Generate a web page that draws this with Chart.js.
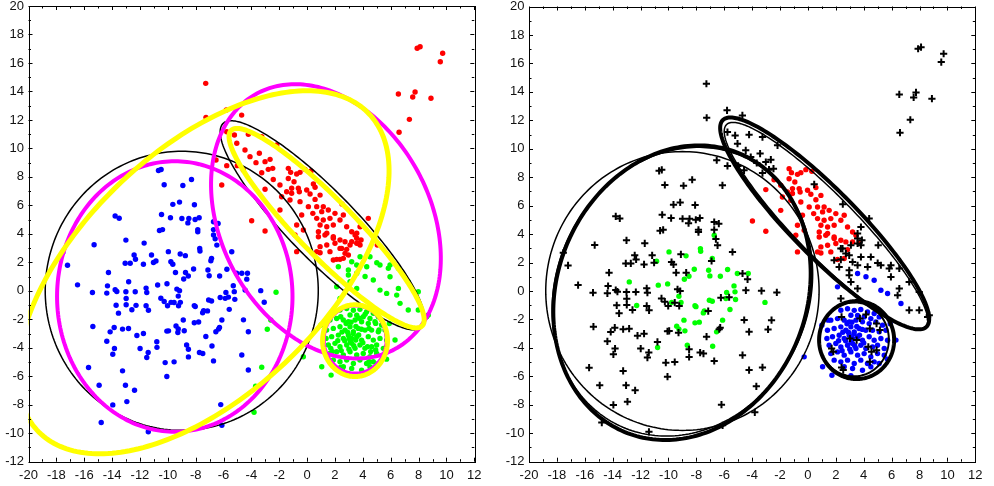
<!DOCTYPE html>
<html>
<head>
<meta charset="utf-8">
<script src="https://cdn.jsdelivr.net/npm/chart.js@4.4.0/dist/chart.umd.min.js"></script>
<style>
  body { margin: 0; background: #fff; }
  .panel { position: absolute; top: 0; }
</style>
</head>
<body>
<div class="panel" style="left:0px"><canvas id="leftChart" width="497" height="486"></canvas></div>
<div class="panel" style="left:497px"><canvas id="rightChart" width="497" height="486"></canvas></div>
<script>
// Axis ranges and tick step (same for both panels)
const xRange = [-20, 12];
const yRange = [-12, 20];
const tickStep = 2;

// Wide cluster: blue on the left, black crosses on the right
const broadBlackPts = [
  [-15.29,3.23],[-13.01,3.56],[-11.7,3.35],[-5.41,2.74],[-17.54,2.69],[-17.2,1.8],[-16.48,0.42],[-15.41,-0.12],
  [-15.38,-2.51],[-14.26,1.29],[-14.33,0.35],[-14.38,-0.16],[-13.78,0.07],[-13.66,-0.05],[-13.71,-1.01],[-13.54,-1.57],
  [-13.01,-0.07],[-12.99,-0.54],[-12.99,-0.98],[-12.58,-1.33],[-12.34,-0.07],[-13.06,1.94],[-12.7,1.94],[-12.42,2.51],
  [-12.32,2.22],[-11.75,1.87],[-11.56,-1.05],[-11.51,-0.12],[-11.56,0.19],[-11.39,-1.36],[-11.17,2.51],[-11.03,1.99],
  [-10.5,-0.52],[-10.26,-0.75],[-10.02,-1.05],[-9.78,2.04],[-9.64,1.87],[-9.45,1.29],[-9.55,-0.82],[-9.35,0.12],
  [-9.16,0.0],[-9.11,2.58],[-8.73,1.29],[-9.23,-1.05],[-7.15,-1.41],[-6.91,2.11],[-6.48,3.21],[-6.24,-0.47],
  [-5.65,-0.44],[-6.29,-2.58],[-6.36,-2.69],[-4.57,-2.04],[-4.33,0.82],[-4.45,0.05],[-7.27,-3.21],[-6.72,-4.92],
  [-7.73,-4.33],[-7.49,-4.4],[-8.52,-4.1],[-8.52,-4.64],[-9.28,-2.93],[-10.07,-2.83],[-9.95,-2.81],[-10.19,-5.04],
  [-9.55,-4.99],[-10.07,-6.02],[-10.79,-3.58],[-11.99,-4.05],[-11.75,-3.0],[-11.41,-4.33],[-11.51,-4.68],[-12.22,-3.14],
  [-12.82,-2.65],[-13.25,-2.69],[-13.85,-2.58],[-14.14,-2.88],[-14.38,-3.54],[-13.83,-4.05],[-13.95,-4.45],[-13.25,-5.62],
  [-13.04,-6.63],[-12.94,-7.78],[-12.39,-6.98],[-13.95,-8.01],[-15.69,-5.39],[-14.93,-6.63],[-14.78,-9.25],[-11.4,-9.9],
  [-6.2,-7.99],[-6.12,-9.44],[-10.67,8.45],[-10.48,8.52],[-10.26,7.45],[-8.92,7.4],[-8.3,7.82],[-9.64,6.07],
  [-9.16,6.23],[-8.09,6.04],[-13.78,5.25],[-13.49,5.1],[-10.45,5.36],[-9.81,5.13],[-8.99,5.08],[-8.49,5.08],
  [-8.56,4.77],[-8.04,5.01],[-7.75,5.13],[-6.72,4.85],[-6.39,4.73],[-7.85,4.3],[-7.85,4.14],[-10.6,4.24],
  [-10.38,4.3],[-6.72,4.3],[-6.6,3.65],[-4.69,1.23],[-3.33,0.01],[-4.22,-2.87],[-4.69,-4.51],[-4.22,-5.56]
];

// Wide cluster: blue on the left, green on the right
const broadGreenPts = [
  [-9.96,2.75],[-7.69,2.79],[-8.74,2.47],[-10.85,2.09],[-6.86,2.28],[-12.81,0.64],[-10.73,0.41],[-10.06,0.5],
  [-8.15,1.53],[-8.53,1.04],[-8.86,0.83],[-7.12,1.46],[-7.03,1.06],[-6.28,1.04],[-5.76,1.51],[-5.06,1.23],
  [-5.3,0.36],[-5.23,-0.06],[-5.83,-0.11],[-9.25,-0.37],[-9.77,-0.81],[-9.1,-0.81],[-5.88,-0.53],[-5.19,-0.6],
  [-7.07,-0.65],[-6.86,-0.72],[-12.28,-1.02],[-8.1,-1.04],[-8.03,-1.1],[-7.43,-1.4],[-7.5,-1.54],[-5.59,-1.3],
  [-6.12,-2.05],[-8.1,-2.24],[-7.79,-2.19],[-8.89,-2.05],[-9.41,-2.47],[-9.25,-2.68],[-8.82,-2.8],[-6.55,-2.87],
  [-10.78,-3.97],[-8.65,-3.81],[-6.83,-3.88],[-4.28,1.23],[-3.08,-0.8],[-6.72,3.92],[-7.71,2.98]
];

// Elongated cluster: red on both panels
const redCorePts = [
  [-1.35,8.6],[-1.18,8.32],[-0.51,8.32],[-0.15,8.53],[-0.75,8.2],[0.28,8.41],[-2.43,7.82],[-1.95,7.43],
  [-1.35,7.89],[-0.94,7.66],[-0.63,7.2],[-1.11,7.2],[-1.47,6.96],[-1.11,6.85],[-0.56,6.96],[-3.02,7.13],
  [-1.83,6.61],[-1.23,6.38],[-0.51,6.26],[-0.03,7.08],[0.57,7.27],[0.21,6.8],[0.57,6.42],[0.93,6.72],
  [0.09,5.91],[0.69,5.91],[1.16,5.91],[0.41,5.44],[1.05,5.56],[1.52,5.67],[0.69,5.09],[1.16,4.97],
  [1.64,5.09],[0.93,4.62],[1.41,4.5],[1.88,4.62],[2.36,4.97],[2.6,5.32],[2.0,5.44],[2.84,4.5],
  [3.2,4.15],[1.41,4.04],[1.88,3.8],[2.36,3.57],[2.72,3.45],[0.81,4.15],[0.93,3.1],[1.41,3.22],
  [0.69,2.75],[-0.75,2.75],[-3.98,4.92],[-3.02,4.2],[-0.75,4.62],[-1.95,5.67],[-0.39,5.32],[-0.87,3.92],
  [-0.27,4.27],[2.0,3.34],[1.64,2.75],[0.93,2.67],[0.81,3.8],[1.28,3.92],[1.88,3.69],[3.44,3.92],
  [3.2,3.45],[3.67,3.34],[2.84,2.91],[2.12,2.21],[2.6,2.28]
];

// Elongated cluster: red on the left, black crosses on the right
const redEdgePts = [
  [7.9,17.03],[8.11,17.14],[9.73,16.68],[9.56,16.09],[6.55,13.82],[7.75,13.96],[7.58,13.61],[8.89,13.52],
  [7.34,12.04],[6.6,11.13],[-7.28,14.57],[-7.26,12.18],[-4.7,12.34],[-5.8,12.7],[-5.77,11.17],[-5.22,10.94],
  [-5.05,10.36],[-4.22,10.99],[-4.46,9.89],[-6.54,9.19],[-5.77,8.79],[-5.01,8.79],[-6.13,7.43],[-3.26,10.82],
  [-2.18,10.24],[-4.1,9.42],[-3.43,9.66],[-2.66,9.23],[-3.02,9.07],[-3.67,9.0],[-4.58,8.48],[-3.26,8.29],
  [-2.79,8.53],[-2.47,8.6],[3.87,3.57],[3.56,3.69],[4.39,5.09],[3.8,4.5],[2.48,2.98],[1.88,2.16],
  [2.36,2.21],[3.56,4.04],[3.08,3.22],[3.56,3.34],[3.8,3.22],[2.36,2.98],[2.72,2.63],[2.96,2.51],
  [5.04,3.22],[0.45,7.5],[2.5,6.1]
];

// Compact cluster: green on the left, blue on the right
const compactBluePts = [
  [2.36,-1.35],[2.84,-1.25],[3.32,-1.36],[3.79,-1.3],[4.27,-1.47],[4.75,-1.58],[5.11,-1.82],[3.08,-1.7],
  [3.56,-1.72],[4.03,-1.82],[4.51,-1.94],[1.64,-2.05],[2.12,-1.94],[2.6,-2.05],[2.96,-2.17],[3.44,-2.05],
  [3.91,-2.17],[4.39,-2.29],[4.87,-2.17],[5.35,-2.4],[1.4,-2.76],[1.88,-2.64],[2.36,-2.52],[2.72,-2.76],
  [3.08,-2.52],[3.32,-2.87],[3.67,-2.64],[4.15,-2.76],[4.63,-2.76],[5.11,-2.87],[5.59,-2.76],[1.76,-3.22],
  [2.24,-3.11],[2.6,-3.34],[2.96,-3.11],[3.2,-3.34],[3.56,-3.22],[3.91,-3.46],[4.39,-3.22],[4.75,-3.46],
  [5.23,-3.34],[5.71,-3.46],[1.52,-3.81],[2.0,-3.69],[2.36,-3.93],[2.84,-3.81],[3.2,-3.69],[3.44,-4.04],
  [3.79,-3.81],[4.15,-4.04],[4.63,-3.93],[4.99,-3.81],[5.47,-4.04],[1.64,-4.4],[2.12,-4.28],[2.6,-4.51],
  [3.08,-4.28],[3.56,-4.51],[4.03,-4.4],[4.51,-4.63],[4.99,-4.4],[5.47,-4.51],[1.88,-4.86],[2.36,-4.98],
  [2.84,-4.86],[3.32,-5.1],[3.79,-4.86],[4.27,-5.1],[4.75,-4.98],[2.6,-5.33],[3.2,-5.45],[3.91,-5.57],
  [4.51,-5.33],[5.11,-5.1],[2.9,-2.9],[3.1,-3.6],[3.3,-3.0],[2.7,-3.5],[3.0,-4.1],[3.5,-2.5],
  [2.5,-2.9],[3.35,-3.85],[2.8,-2.3],[3.7,-3.1],[2.45,-4.2],[3.9,-2.7],[2.2,-3.5],[4.0,-3.65],
  [3.15,-2.2],[1.72,-5.92],[3.08,-5.95],[1.36,-3.34],[1.45,-2.05],[5.9,-2.3],[1.0,-2.4],[5.7,-4.8],
  [3.56,1.23],[4.16,1.0],[4.75,0.76],[2.12,0.29],[5.23,0.05],[5.71,-0.18],[6.67,-0.88],[6.31,-3.45],
  [-0.27,-4.63],[1.05,-5.33]
];

// Compact cluster: green on the left, black crosses on the right
const compactBlackPts = [
  [2.24,1.69],[3.2,2.04],[3.8,2.39],[4.51,2.39],[2.96,1.46],[4.28,1.69],[5.0,1.97],[5.23,1.81],
  [5.95,1.81],[5.83,1.58],[6.55,1.58],[3.56,0.17],[6.55,0.17],[2.36,-0.53],[7.26,-1.35],[7.98,-1.35],
  [7.98,-0.07],[7.26,0.64],[3.08,0.64],[8.7,-1.7],[5.95,0.99],[3.56,1.81],[2.96,1.11],[6.43,-0.3],
  [8.58,-1.82],[2.41,-1.82],[3.73,-1.93],[4.16,-1.65],[4.92,-2.29],[4.44,-2.64],[5.16,-2.75],[3.49,-3.45],
  [3.01,-3.34],[4.33,-3.92],[4.56,-4.27],[4.92,-4.16],[1.7,-4.04],[1.82,-4.27],[4.44,-4.98],[2.41,-5.37],
  [2.53,-5.56],[-2.23,-0.1],[-2.61,-2.05],[-2.86,-2.7],[-3.81,-8.53],[-3.26,-5.37],[-3.7,-6.7]
];

// Ellipses: [centre x, centre y, semi-axis a, semi-axis b, rotation in degrees]
const leftEllipses = [
  [-9.0, 0.0, 9.8, 9.8, 0],        // wide cluster, thin black
  [1.1, 4.6, 10.1, 2.4, -45],      // elongated cluster, thin black
  [3.35, -3.5, 2.3, 2.45, 0],      // compact cluster, thin black
  [-9.5, -0.4, 8.45, 9.5, 0],      // wide cluster, magenta
  [1.35, 4.88, 10.25, 7.46, -60],  // elongated cluster, magenta
  [3.45, -3.42, 2.22, 2.36, 0],    // compact cluster, magenta
  [-7.45, 1.3, 16.29, 8.65, 42.7], // wide cluster, yellow
  [1.4, 4.4, 9.7, 2.0, -45],       // elongated cluster, yellow
  [3.44, -3.5, 2.33, 2.52, 0]      // compact cluster, yellow
];
const rightEllipses = [
  [-9.0, 0.0, 9.8, 9.8, 0],
  [-9.0, -0.05, 10.45, 9.0, 62],
  [-9.03, -0.12, 10.62, 8.92, 65.8],
  [1.3, 4.55, 10.1, 2.15, -45],
  [1.2, 4.75, 10.3, 2.35, -44.8],
  [3.3, -3.4, 2.5, 2.6, 0],
  [3.49, -3.45, 2.69, 2.74, 0]
];

// Styles for the ellipses, in the same order as above
const leftEllipseStyles = [
  { color: '#000000', width: 1.5 }, { color: '#000000', width: 1.5 }, { color: '#000000', width: 1.5 },
  { color: '#ff00ff', width: 4 }, { color: '#ff00ff', width: 4 }, { color: '#ff00ff', width: 3 },
  { color: '#ffff00', width: 5 }, { color: '#ffff00', width: 5 }, { color: '#ffff00', width: 5 }
];
const rightEllipseStyles = [
  { color: '#000000', width: 1.5 }, { color: '#000000', width: 1.5 }, { color: '#000000', width: 4 },
  { color: '#000000', width: 1.5 }, { color: '#000000', width: 4 },
  { color: '#000000', width: 2 }, { color: '#000000', width: 4 }
];

// Turn [x, y] pairs into Chart.js points
function toPoints(list) {
  return list.map(p => ({ x: p[0], y: p[1] }));
}

// Filled dot dataset
function dots(points, color, order) {
  return {
    data: toPoints(points),
    pointStyle: 'circle',
    pointRadius: 2.7,
    pointHoverRadius: 2.7,
    backgroundColor: color,
    borderWidth: 0,
    order: order
  };
}

// Black "+" dataset
function crosses(points, order) {
  return {
    data: toPoints(points),
    pointStyle: 'cross',
    pointRadius: 3.6,
    pointHoverRadius: 3.6,
    borderColor: '#000000',
    borderWidth: 2,
    order: order
  };
}

// Plugin: ellipses through the scales, then the frame with inward ticks
const framePlugin = {
  id: 'frame',
  afterDatasetsDraw(chart, args, opts) {
    const ctx = chart.ctx;
    const area = chart.chartArea;
    const xs = chart.scales.x;
    const ys = chart.scales.y;

    ctx.save();
    ctx.beginPath();
    ctx.rect(area.left, area.top, area.right - area.left, area.bottom - area.top);
    ctx.clip();
    opts.ellipses.forEach((e, i) => {
      const [cx, cy, a, b, deg] = e;
      const phi = deg * Math.PI / 180;
      ctx.beginPath();
      for (let k = 0; k <= 240; k++) {
        const t = k / 240 * 2 * Math.PI;
        const ex = a * Math.cos(t);
        const ey = b * Math.sin(t);
        const px = xs.getPixelForValue(cx + ex * Math.cos(phi) - ey * Math.sin(phi));
        const py = ys.getPixelForValue(cy + ex * Math.sin(phi) + ey * Math.cos(phi));
        if (k === 0) ctx.moveTo(px, py); else ctx.lineTo(px, py);
      }
      ctx.closePath();
      ctx.strokeStyle = opts.styles[i].color;
      ctx.lineWidth = opts.styles[i].width;
      ctx.stroke();
    });
    ctx.restore();

    // frame and tick marks pointing inwards
    ctx.save();
    ctx.strokeStyle = '#000000';
    ctx.lineWidth = 1;
    ctx.beginPath();
    for (let v = xRange[0]; v <= xRange[1]; v++) {
      const px = Math.round(xs.getPixelForValue(v)) + 0.5;
      const len = v % tickStep === 0 ? 4 : 2.5;
      ctx.moveTo(px, area.bottom); ctx.lineTo(px, area.bottom - len);
      ctx.moveTo(px, area.top); ctx.lineTo(px, area.top + len);
    }
    for (let v = yRange[0]; v <= yRange[1]; v++) {
      const py = Math.round(ys.getPixelForValue(v)) + 0.5;
      const len = v % tickStep === 0 ? 4 : 2.5;
      ctx.moveTo(area.left, py); ctx.lineTo(area.left + len, py);
      ctx.moveTo(area.right, py); ctx.lineTo(area.right - len, py);
    }
    ctx.stroke();
    ctx.strokeRect(Math.round(area.left) + 0.5, Math.round(area.top) + 0.5,
      Math.round(area.right - area.left), Math.round(area.bottom - area.top));
    ctx.restore();
  }
};

// Build one panel
function makePanel(canvasId, datasets, ellipses, styles, box) {
  const tickFont = { family: "'Liberation Sans', Arial, sans-serif", size: 13 };
  return new Chart(document.getElementById(canvasId).getContext('2d'), {
    type: 'scatter',
    data: { datasets: datasets },
    options: {
      responsive: false,
      animation: false,
      devicePixelRatio: 1,
      layout: { autoPadding: false, padding: { top: box.top, right: box.right, left: 0, bottom: 0 } },
      plugins: {
        legend: { display: false },
        tooltip: { enabled: false },
        frame: { ellipses: ellipses, styles: styles }
      },
      scales: {
        x: {
          type: 'linear',
          min: xRange[0],
          max: xRange[1],
          grid: { display: false, drawTicks: false },
          border: { display: false },
          ticks: { stepSize: tickStep, autoSkip: false, maxRotation: 0, padding: 6, color: '#111', font: tickFont },
          afterFit(scale) {
            scale.height = box.xHeight;
            scale.paddingLeft = 0; scale.paddingRight = 0;
          }
        },
        y: {
          type: 'linear',
          min: yRange[0],
          max: yRange[1],
          grid: { display: false, drawTicks: false },
          border: { display: false },
          ticks: { stepSize: tickStep, autoSkip: false, padding: 4.5, color: '#111', font: tickFont },
          afterFit(scale) {
            scale.width = box.yWidth;
            scale.paddingTop = 0; scale.paddingBottom = 0;
          }
        }
      }
    },
    plugins: [framePlugin]
  });
}

// Left panel: three coloured clusters with black, magenta and yellow ellipses
makePanel('leftChart', [
  dots(broadBlackPts.concat(broadGreenPts), '#0000ff', 1),
  dots(redCorePts.concat(redEdgePts), '#ff0000', 1),
  dots(compactBluePts.concat(compactBlackPts), '#00ff00', 1)
], leftEllipses, leftEllipseStyles, { top: 6, right: 22.7, yWidth: 28.5, xHeight: 24.3 });

// Right panel: same points, relabelled, with black ellipses
makePanel('rightChart', [
  dots(broadGreenPts, '#00ff00', 1),
  dots(redCorePts, '#ff0000', 1),
  dots(compactBluePts, '#0000ff', 1),
  crosses(broadBlackPts.concat(redEdgePts, compactBlackPts), 0)
], rightEllipses, rightEllipseStyles, { top: 6.5, right: 18.7, yWidth: 32, xHeight: 24.3 });
</script>
</body>
</html>
